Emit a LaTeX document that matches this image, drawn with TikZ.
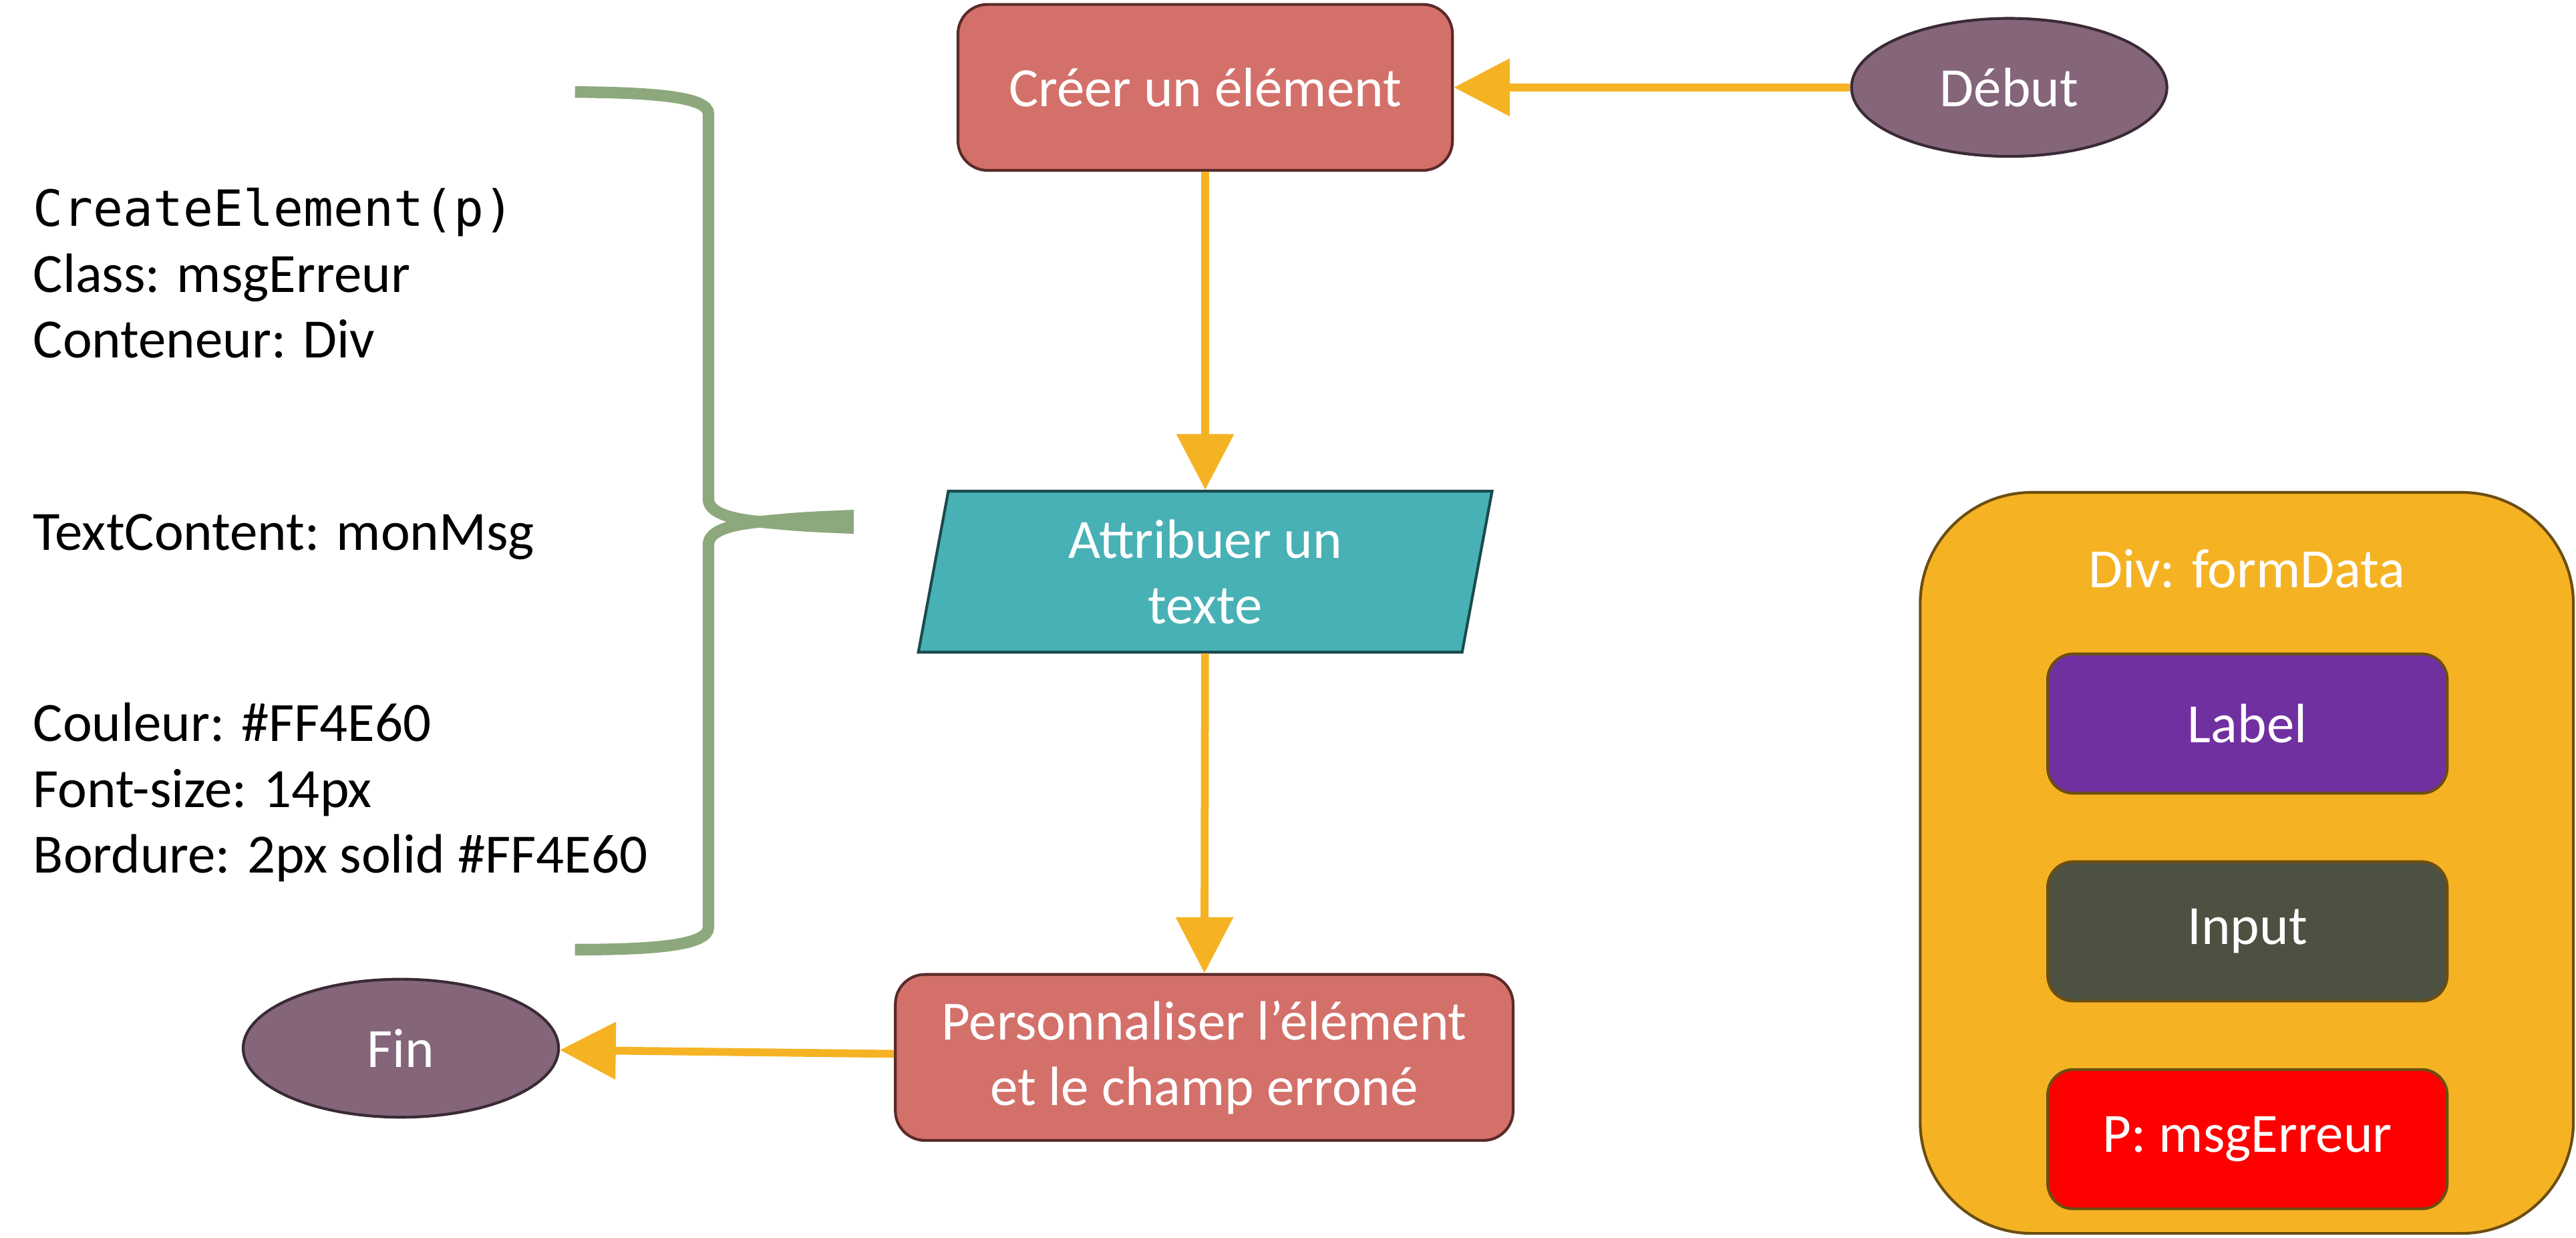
\documentclass[tikz,border=0pt]{standalone}
\usepackage{fontspec}
\setmainfont{Carlito}
\newfontfamily\codefont{DejaVu Sans Mono}
\usetikzlibrary{positioning,shapes.geometric,arrows.meta}

\definecolor{procfill}{HTML}{D4706A}
\definecolor{procline}{HTML}{5A2A28}
\definecolor{termfill}{HTML}{84657A}
\definecolor{termline}{HTML}{3A2A35}
\definecolor{iofill}{HTML}{48B1B5}
\definecolor{ioline}{HTML}{1B4A4C}
\definecolor{flowcol}{HTML}{F5B324}
\definecolor{divline}{HTML}{6B4E12}
\definecolor{labelcol}{HTML}{7030A0}
\definecolor{inputcol}{HTML}{4C5142}
\definecolor{errcol}{HTML}{FF0000}
\definecolor{bracecol}{HTML}{8CA87C}

\begin{document}
\begin{tikzpicture}[scale=1,
	every node/.style={font=\fontsize{24}{28.5}\selectfont, text=white, align=center},
	procbox/.style={draw=procline, line width=1.2pt, fill=procfill, rounded corners=0.45cm, minimum height=2.525cm},
	terminal/.style={ellipse, draw=termline, line width=1.2pt, fill=termfill, minimum width=4.8cm, minimum height=2.1cm},
	iobox/.style={trapezium, trapezium left angle=76, trapezium right angle=104, trapezium stretches body, draw=ioline, line width=1.2pt, fill=iofill, minimum width=8.73cm, minimum height=2.45cm},
	innerbox/.style={draw=divline, line width=1.2pt, rounded corners=0.39cm, minimum width=6.08cm, minimum height=2.12cm},
	infotext/.style={text=black, align=left, inner sep=0, anchor=west},
	flow/.style={draw=flowcol, line width=3.4pt, -{Triangle[length=0.85cm,width=0.85cm]}}]
	\useasboundingbox (0,0) rectangle (39.2,18.83);
	%flow chart nodes placed by hand
	\node[procbox, minimum width=7.525cm] (creer) at (18.34,17.5){Créer un élément};
	\node[terminal] (debut) at (30.575,17.5){Début};
	\node[iobox] (attr) at (18.34,10.13){Attribuer un\\texte};
	\node[procbox, minimum width=9.4cm] (perso) at (18.325,2.74){Personnaliser l’élément\\et le champ erroné};
	\node[terminal] (fin) at (6.1,2.88){Fin};
	%% arrows between the steps
	\draw[flow] (debut)--(creer);
	\draw[flow] (creer)--(attr);
	\draw[flow] (attr)--(perso);
	\draw[flow] (perso)--(fin);
	%% notes on the left and their brace
	\node[infotext] (notecreate) at (0.5,14.67){{\codefont\fontsize{21.6}{28.5}\selectfont CreateElement(p)}\\Class: msgErreur\\Conteneur: Div};
	\node[infotext] (notetext) at (0.5,10.655){TextContent: monMsg};
	\node[infotext] (notestyle) at (0.5,6.77){Couleur: \#FF4E60\\Font-size: 14px\\Bordure: 2px solid \#FF4E60};
	\coordinate (waist) at (11.56,10.89);
	\draw[bracecol, line width=5pt] (8.75,17.43) .. controls (10.0,17.42) and (10.78,17.35) .. (10.78,17.1) -- (10.78,11.24) .. controls (10.78,11.0) and (11.2,10.93) .. (waist) .. controls (11.2,10.85) and (10.78,10.78) .. (10.78,10.54) -- (10.78,4.72) .. controls (10.78,4.45) and (10.0,4.38) .. (8.75,4.38);
	\fill[bracecol] (11.56,10.98) .. controls (12.2,11.04) .. (12.99,11.073) -- (12.99,10.707) .. controls (12.2,10.74) .. (11.56,10.80) -- cycle;
	%% the container on the right
	\node[draw=divline, line width=1.2pt, fill=flowcol, rounded corners=1.7cm, minimum width=9.94cm, minimum height=11.275cm] (div) at (34.19,5.70){};
	\node (divtitle) at (34.19,10.18){Div: formData};
	\node[innerbox, fill=labelcol] (label) at (34.2,7.82){Label};
	\node[innerbox, fill=inputcol, below=1cm of label] (input){Input};
	\node[innerbox, fill=errcol, below=1cm of input] (msg){P: msgErreur};
\end{tikzpicture}
\end{document}
